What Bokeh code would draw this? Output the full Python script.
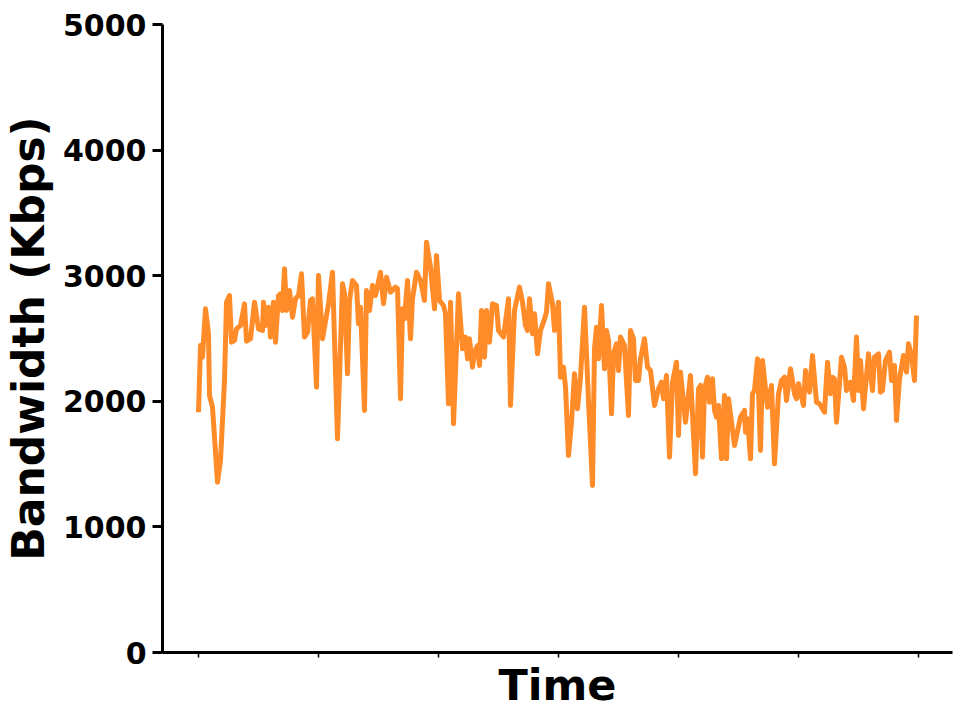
from bokeh.plotting import figure
from bokeh.models import Range1d, FixedTicker, CustomJSTickFormatter
from bokeh.embed import file_html
from bokeh.resources import INLINE

# time in seconds, bandwidth in Kbps
time_s = [0, 2, 4, 7, 10, 11, 14, 19, 22, 26, 28, 31, 33, 36, 38, 42, 46, 48, 52, 56,
          60, 64, 65, 67, 70, 72, 75, 77, 80, 82, 84, 86, 88, 91, 94, 97, 100, 103, 106, 109,
          112, 114, 118, 120, 124, 130, 134, 139, 144, 146, 149, 151, 154, 158, 160, 162, 166, 168, 171, 174,
          177, 182, 185, 188, 192, 197, 199, 202, 204, 206, 209, 212, 214, 218, 222, 226, 228, 232, 236, 238,
          241, 245, 247, 250, 252, 255, 260, 264, 267, 269, 271, 274, 276, 279, 281, 283, 286, 288, 291, 294,
          298, 300, 305, 310, 312, 316, 321, 324, 327, 329, 331, 334, 336, 339, 342, 345, 348, 350, 354, 356,
          360, 362, 365, 367, 370, 373, 376, 379, 382, 386, 390, 394, 396, 398, 400, 403, 406, 408, 410, 413,
          415, 418, 420, 422, 426, 430, 432, 435, 437, 440, 442, 446, 449, 452, 456, 460, 463, 465, 468, 471,
          474, 478, 480, 482, 487, 492, 497, 500, 502, 504, 506, 509, 511, 514, 516, 518, 520, 523, 526, 528,
          530, 533, 536, 542, 546, 547, 549, 552, 554, 556, 559, 562, 564, 569, 573, 576, 580, 583, 586, 588,
          592, 596, 598, 600, 605, 607, 611, 614, 618, 621, 626, 629, 632, 634, 636, 638, 643, 646, 648, 652,
          655, 658, 660, 662, 665, 670, 674, 676, 680, 682, 684, 687, 691, 693, 696, 698, 701, 705, 708, 710,
          713, 716, 718]

bandwidth_kbps = [1913, 2444, 2351, 2736, 2537, 2046, 1953, 1356, 1529, 2166, 2789, 2842, 2471, 2484, 2577, 2604, 2776, 2479, 2498, 2789,
                  2577, 2564, 2789, 2604, 2749, 2511, 2789, 2471, 2842, 2856, 2723, 3055, 2723, 2882, 2670, 2816, 2842, 3015, 2511, 2550,
                  2803, 2816, 2112, 3002, 2498, 2776, 3028, 1701, 2935, 2856, 2219, 2803, 2962, 2922, 2617, 2749, 1927, 2882, 2723, 2922,
                  2842, 3028, 2776, 2988, 2869, 2909, 2896, 2020, 2736, 2657, 2962, 2498, 2816, 3028, 2962, 2803, 3267, 3068, 2736, 3161,
                  2803, 2763, 2697, 1980, 2789, 1821, 2856, 2418, 2511, 2338, 2498, 2272, 2391, 2444, 2285, 2723, 2351, 2723, 2471, 2776,
                  2763, 2564, 2511, 2816, 1967, 2723, 2909, 2789, 2604, 2564, 2816, 2537, 2697, 2378, 2564, 2630, 2710, 2935, 2776, 2564,
                  2789, 2192, 2272, 2112, 1568, 1834, 2219, 1940, 2192, 2749, 2006, 1330, 2418, 2590, 2338, 2763, 2259, 2564, 2484, 1900,
                  2378, 2458, 2245, 2511, 2444, 1887, 2564, 2498, 2166, 2166, 2338, 2498, 2272, 2245, 1967, 2100, 2152, 2020, 2205, 1555,
                  2152, 2311, 1728, 2232, 1834, 2205, 1423, 2100, 2126, 1555, 2100, 2192, 1993, 2179, 1927, 1874, 1967, 1542, 2046, 1542,
                  2020, 1834, 1648, 1874, 1927, 1754, 1861, 1542, 2060, 2086, 2338, 1608, 2325, 1953, 2126, 1502, 2060, 2166, 2192, 2006,
                  2259, 2060, 2020, 2139, 1967, 2245, 2073, 2365, 1993, 1980, 1913, 2311, 2060, 2192, 2179, 1834, 2351, 2272, 2086, 2152,
                  2006, 2511, 2086, 2325, 1940, 2378, 2086, 2351, 2378, 2073, 2086, 2325, 2391, 2166, 2285, 1847, 2179, 2365, 2232, 2458,
                  2365, 2166, 2683]

x_ticks = [0, 120, 240, 360, 480, 600, 720]
y_ticks = [0, 1000, 2000, 3000, 4000, 5000]

FONT = "DejaVu Sans"

p = figure(width=956, height=712, output_backend="svg", toolbar_location=None,
           x_range=Range1d(-36, 754), y_range=Range1d(0, 5000))
p.min_border_left = 162
p.min_border_top = 24
p.min_border_right = 4
p.min_border_bottom = 60
p.outline_line_color = None
p.grid.visible = False
p.background_fill_color = "white"

p.line(time_s, bandwidth_kbps, line_color="#FF8C28", line_width=5, line_join="round")

# y axis
ya = p.yaxis[0]
ya.ticker = FixedTicker(ticks=y_ticks)
ya.minor_tick_line_color = None
ya.axis_line_width = 3
ya.major_tick_line_width = 3
ya.major_tick_out = 10
ya.major_tick_in = 0
ya.major_label_text_font = FONT
ya.major_label_text_font_style = "bold"
ya.major_label_text_font_size = "30px"
ya.major_label_text_color = "black"
ya.major_label_standoff = 6
ya.axis_label = "Bandwidth (Kbps)"
ya.axis_label_text_font = FONT
ya.axis_label_text_font_style = "bold"
ya.axis_label_text_font_size = "44px"
ya.axis_label_text_color = "black"
ya.axis_label_standoff = 6

# x axis
xa = p.xaxis[0]
xa.ticker = FixedTicker(ticks=x_ticks)
xa.formatter = CustomJSTickFormatter(code="return '';")
xa.minor_tick_line_color = None
xa.axis_line_width = 3
xa.major_tick_line_width = 1.5
xa.major_tick_out = 5
xa.major_tick_in = 0
xa.major_label_text_font_size = "1px"
xa.major_label_standoff = 0
xa.axis_label = "Time"
xa.axis_label_text_font = FONT
xa.axis_label_text_font_style = "bold"
xa.axis_label_text_font_size = "43px"
xa.axis_label_text_color = "black"
xa.axis_label_standoff = 2

open("out.html", "w").write(file_html(p, INLINE))
